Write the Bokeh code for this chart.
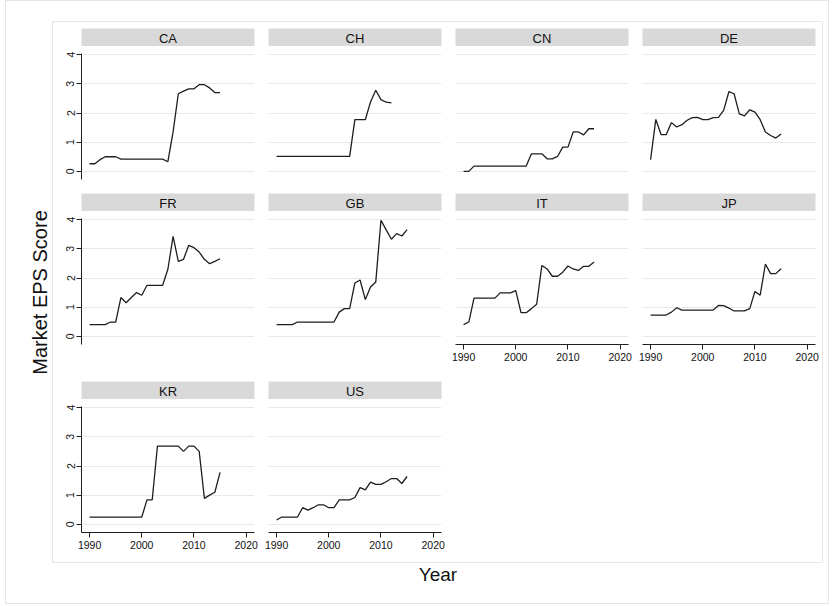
import math
from bokeh.plotting import figure
from bokeh.layouts import row, column
from bokeh.models import Range1d, FixedTicker, Spacer
from bokeh.embed import file_html
from bokeh.resources import INLINE
from bokeh.core.properties import value

# ---------------- data ----------------
years = list(range(1990, 2016))
years_ch = list(range(1990, 2013))
countries = ["CA", "CH", "CN", "DE", "FR", "GB", "IT", "JP", "KR", "US"]

ca = [0.26, 0.26, 0.40, 0.50, 0.50, 0.50, 0.42, 0.42, 0.42, 0.42, 0.42, 0.42, 0.42,
      0.42, 0.42, 0.33, 1.35, 2.66, 2.75, 2.83, 2.83, 2.97, 2.97, 2.86, 2.70, 2.70]
ch = [0.51] * 15 + [1.77, 1.77, 1.77, 2.38, 2.78, 2.46, 2.37, 2.35]
cn = [0.0, 0.0] + [0.18] * 11 + [0.60, 0.60, 0.60, 0.43, 0.43, 0.51, 0.83, 0.83,
                                 1.35, 1.35, 1.25, 1.46, 1.46]
de = [0.40, 1.78, 1.26, 1.26, 1.67, 1.52, 1.60, 1.75, 1.84, 1.85, 1.77, 1.77, 1.84,
      1.85, 2.09, 2.73, 2.66, 1.97, 1.90, 2.11, 2.03, 1.77, 1.35, 1.23, 1.14, 1.28]
fr = [0.40, 0.40, 0.40, 0.40, 0.49, 0.49, 1.33, 1.15, 1.33, 1.50, 1.41, 1.75, 1.75,
      1.75, 1.75, 2.30, 3.43, 2.57, 2.64, 3.12, 3.04, 2.89, 2.64, 2.49, 2.57, 2.66]
gb = [0.40] * 4 + [0.49] * 8 + [0.83, 0.95, 0.95, 1.83, 1.93, 1.26, 1.69, 1.86,
                                3.98, 3.65, 3.33, 3.52, 3.44, 3.66]
it = [0.40, 0.49] + [1.31] * 5 + [1.49, 1.49, 1.49, 1.57, 0.81, 0.81, 0.95, 1.10,
                                  2.43, 2.31, 2.06, 2.06, 2.20, 2.41, 2.31, 2.26,
                                  2.40, 2.40, 2.55]
jp = [0.73] * 4 + [0.83, 0.98] + [0.90] * 7 + [1.06, 1.05, 0.97, 0.87, 0.87, 0.87,
                                              0.95, 1.54, 1.41, 2.48, 2.15, 2.15, 2.32]
kr = [0.25] * 11 + [0.84, 0.84] + [2.68] * 5 + [2.50, 2.68, 2.68, 2.50, 0.89, 1.00,
                                               1.10, 1.78]
us = [0.15, 0.25, 0.25, 0.25, 0.25, 0.57, 0.49, 0.57, 0.67, 0.67, 0.57, 0.57, 0.84,
      0.84, 0.84, 0.92, 1.26, 1.18, 1.45, 1.37, 1.37, 1.46, 1.57, 1.57, 1.40, 1.64]

series = {"CA": (years, ca), "CH": (years_ch, ch), "CN": (years, cn), "DE": (years, de),
          "FR": (years, fr), "GB": (years, gb), "IT": (years, it), "JP": (years, jp),
          "KR": (years, kr), "US": (years, us)}

x_ticks = [1990, 2000, 2010, 2020]
y_ticks = [0, 1, 2, 3, 4]
x_title = "Year"
y_title = "Market EPS Score"

# ---------------- layout / style ----------------
FONT = "Liberation Sans"
FRAME_W, FRAME_H = 173, 126
LEFT_FIRST, LEFT, RIGHT = 28, 7, 7
STRIP_H, GAP = 18, 7
ROW_BOTTOM = [14, 37, 30]
TOP_PAD = 6
YLAB_W = 46
XLAB_H = 40
BORDER = "1px solid #e6e6e6"
INK = "#1e1e1e"

grid_rows = [["CA", "CH", "CN", "DE"], ["FR", "GB", "IT", "JP"], ["KR", "US"]]
bottom_of_col = {"IT", "JP", "KR", "US"}


def make_cell(name, col, rowi):
    left = LEFT_FIRST if col == 0 else LEFT
    width = left + FRAME_W + RIGHT
    strip = figure(width=width, height=STRIP_H, x_range=Range1d(0, 1), y_range=Range1d(0, 1),
                   x_axis_location=None, y_axis_location=None, toolbar_location=None,
                   output_backend="svg", min_border_left=left, min_border_right=RIGHT,
                   min_border_top=0, min_border_bottom=0)
    strip.grid.visible = False
    strip.outline_line_color = None
    strip.background_fill_color = "#d9d9d9"
    strip.border_fill_color = "white"
    strip.text(x=[0.5], y=[0.45], text=[name], text_align="center", text_baseline="middle",
               text_font=value(FONT), text_font_size="13px", text_color="#111111")

    bottom = ROW_BOTTOM[rowi]
    xs, ys = series[name]
    p = figure(width=width, height=GAP + FRAME_H + bottom,
               x_range=Range1d(1988.45, 2021.6), y_range=Range1d(-0.28, 4.04),
               toolbar_location=None, output_backend="svg",
               min_border_left=left, min_border_right=RIGHT,
               min_border_top=GAP, min_border_bottom=bottom)
    p.outline_line_color = None
    p.background_fill_color = "white"
    p.border_fill_color = "white"
    p.xgrid.visible = False
    p.ygrid.ticker = FixedTicker(ticks=y_ticks)
    p.ygrid.grid_line_color = "#e8e8e8"
    p.ygrid.grid_line_width = 1
    p.xaxis.ticker = FixedTicker(ticks=x_ticks)
    p.yaxis.ticker = FixedTicker(ticks=y_ticks)
    for ax in (p.xaxis[0], p.yaxis[0]):
        ax.axis_line_color = INK
        ax.major_tick_line_color = INK
        ax.minor_tick_line_color = None
        ax.major_tick_in = 0
        ax.major_tick_out = 5
        ax.major_label_text_font = FONT
        ax.major_label_text_font_size = "10.5px"
        ax.major_label_text_color = "#111111"
    p.xaxis.major_label_standoff = 3
    p.yaxis.major_label_standoff = 2
    p.yaxis.major_label_orientation = "vertical"
    p.yaxis.visible = (col == 0)
    p.xaxis.visible = name in bottom_of_col
    p.line(xs, ys, line_color=INK, line_width=1.3)
    return column(strip, p, spacing=0)


rows = []
for r, names in enumerate(grid_rows):
    rows.append(row(*[make_cell(n, c, r) for c, n in enumerate(names)], spacing=0))

inner_w = LEFT_FIRST + 4 * (FRAME_W + RIGHT) + 3 * LEFT
inner = column(Spacer(height=TOP_PAD, width=inner_w), *rows, spacing=0,
               styles={"border": BORDER})
inner_h = TOP_PAD + sum(STRIP_H + GAP + FRAME_H + b for b in ROW_BOTTOM)

ylab = figure(width=YLAB_W, height=inner_h + 2, x_range=Range1d(0, YLAB_W),
              y_range=Range1d(0, inner_h + 2),
              x_axis_location=None, y_axis_location=None, toolbar_location=None,
              output_backend="svg", min_border=0)
ylab.grid.visible = False
ylab.outline_line_color = None
ylab.text(x=[33], y=[(inner_h + 2) / 2], text=[y_title], angle=math.pi / 2,
          text_align="center", text_baseline="middle", text_font=value(FONT),
          text_font_size="20px", text_color="#111111")

box_w = YLAB_W + inner_w + 2 + 5
xlab = figure(width=box_w, height=XLAB_H, x_range=Range1d(0, box_w), y_range=Range1d(0, XLAB_H),
              x_axis_location=None, y_axis_location=None, toolbar_location=None,
              output_backend="svg", min_border=0)
xlab.grid.visible = False
xlab.outline_line_color = None
xlab.text(x=[YLAB_W + 1 + inner_w / 2], y=[29], text=[x_title], text_align="center",
          text_baseline="middle", text_font=value(FONT), text_font_size="19px",
          text_color="#111111")

box = column(Spacer(height=20, width=box_w),
             row(ylab, inner, Spacer(width=5, height=inner_h), spacing=0),
             xlab, spacing=0, styles={"border": BORDER})
root = row(Spacer(width=5, height=10), box, spacing=0)

open("out.html", "w").write(file_html(root, INLINE))
